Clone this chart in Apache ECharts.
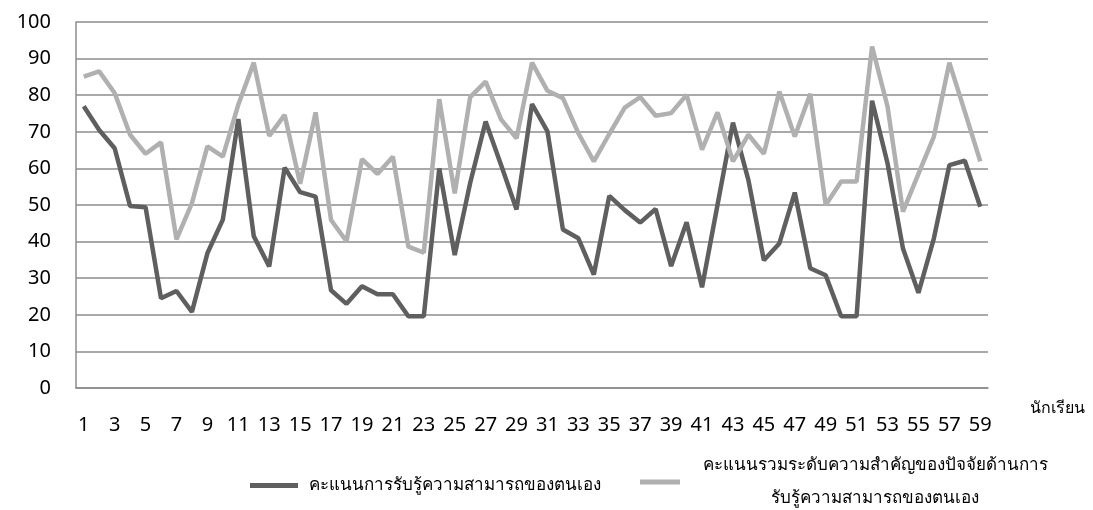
<!DOCTYPE html>
<html>
<head>
<meta charset="utf-8">
<script src="https://cdn.jsdelivr.net/npm/echarts@6/dist/echarts.min.js"></script>
<style>
  html, body { margin: 0; padding: 0; background: #fff; }
  #chart { width: 1093px; height: 510px; }
</style>
</head>
<body>
<div id="chart"></div>
<script>
const students = Array.from({ length: 59 }, (_, i) => String(i + 1));

const selfScore = [
  77, 70.5, 65.5, 49.7, 49.4, 24.5, 26.5, 20.8, 36.8, 46,
  73.5, 41.5, 33.2, 60.2, 53.5, 52.3, 26.7, 23, 27.8, 25.6,
  25.6, 19.6, 19.6, 60, 36.3, 56, 72.8, 60.9, 48.8, 77.6,
  70.1, 43.3, 40.9, 31, 52.5, 48.6, 45.2, 48.9, 33.3, 45.3,
  27.5, 50, 72.5, 56.8, 34.9, 39.5, 53.4, 32.7, 30.8, 19.6,
  19.6, 78.5, 61.4, 38.1, 26, 40.9, 60.9, 62.1, 49.5,
];

const factorScore = [
  85.1, 86.5, 80.6, 69.2, 64, 67.1, 40.6, 50.5, 66, 63.2,
  77.4, 88.9, 68.9, 74.6, 55.8, 75.3, 45.9, 40.1, 62.5, 58.5,
  63.2, 38.6, 37, 78.9, 53.2, 79.5, 83.7, 73.4, 68.2, 88.9,
  81.2, 79.2, 69.6, 61.9, 69.4, 76.6, 79.5, 74.4, 75.1, 80.1,
  65.1, 75.3, 61.9, 69.2, 64, 81, 68.7, 80.4, 50, 56.4,
  56.4, 93.3, 76.9, 48.2, 58.5, 68.7, 88.9, 75.5, 61.9,
];

const seriesNames = [
  "คะแนนการรับรู้ความสามารถของตนเอง",
  "คะแนนรวมระดับความสำคัญของปัจจัยด้านการรับรู้ความสามารถของตนเอง",
];

const darkColor = "#5f5f5f";
const lightColor = "#b0b0b0";
const font = "'Noto Sans', 'DejaVu Sans', sans-serif";

const chart = echarts.init(document.getElementById("chart"));
chart.setOption({
  animation: false,
  textStyle: { fontFamily: font },
  grid: { left: 76, right: 105, top: 22, bottom: 122, containLabel: false },
  xAxis: {
    type: "category",
    data: students,
    boundaryGap: true,
    name: "นักเรียน",
    nameLocation: "end",
    nameGap: 42,
    nameTextStyle: { color: "#000", fontSize: 16, verticalAlign: "top", padding: [12, 0, 0, 0] },
    axisLine: { lineStyle: { color: "#8c8c8c", width: 1.5 } },
    axisTick: { show: false },
    axisLabel: { interval: 1, color: "#000", fontSize: 20, margin: 27 },
  },
  yAxis: {
    type: "value",
    min: 0,
    max: 100,
    interval: 10,
    axisLine: { show: true, lineStyle: { color: "#8c8c8c", width: 1.5 } },
    axisTick: { show: false },
    axisLabel: { color: "#000", fontSize: 20, margin: 25 },
    splitLine: { lineStyle: { color: "#8c8c8c", width: 1.5 } },
  },
  legend: [
    {
      data: [seriesNames[0]],
      left: 245,
      top: 472,
      icon: "rect",
      itemWidth: 48,
      itemHeight: 5,
      textStyle: { color: "#000", fontSize: 17, padding: [0, 0, 0, 6] },
    },
    {
      data: [seriesNames[1]],
      left: 635,
      top: 452,
      icon: "rect",
      itemWidth: 40,
      itemHeight: 5,
      formatter: () =>
        "{a|คะแนนรวมระดับความสำคัญของปัจจัยด้านการ}\n{a|รับรู้ความสามารถของตนเอง}",
      textStyle: {
        color: "#000",
        fontSize: 17,
        rich: { a: { width: 380, align: "center", fontSize: 17, lineHeight: 33, color: "#000" } },
      },
    },
  ],
  series: [
    {
      name: seriesNames[0],
      type: "line",
      data: selfScore,
      symbol: "none",
      color: darkColor,
      lineStyle: { color: darkColor, width: 4.5 },
    },
    {
      name: seriesNames[1],
      type: "line",
      data: factorScore,
      symbol: "none",
      color: lightColor,
      lineStyle: { color: lightColor, width: 4.5 },
    },
  ],
});
</script>
</body>
</html>
